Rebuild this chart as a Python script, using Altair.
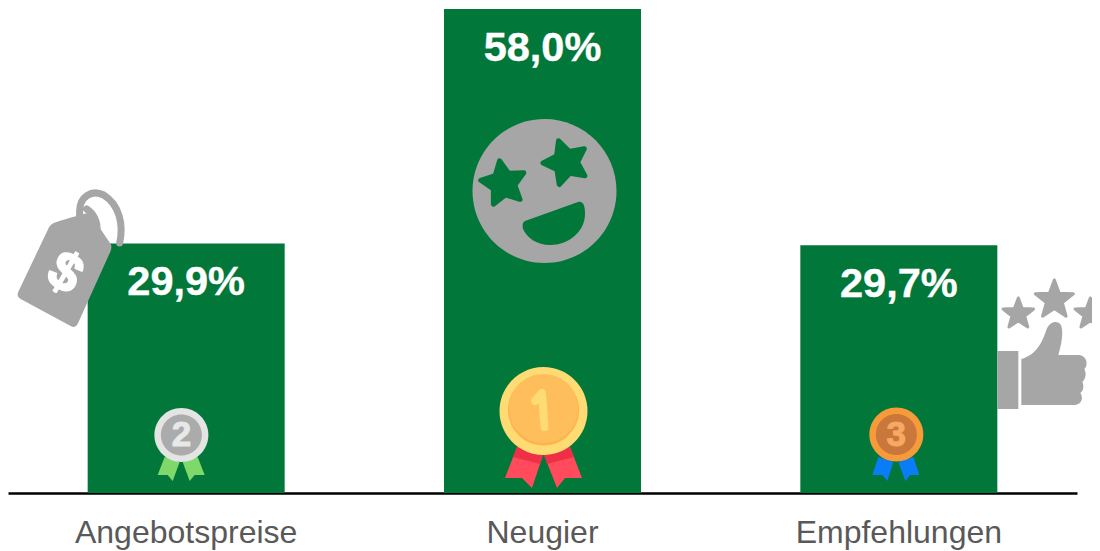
import math
import re
import altair as alt
import pandas as pd

categories = ["Angebotspreise", "Neugier", "Empfehlungen"]
values = [29.9, 58.0, 29.7]
value_labels = ["29,9%", "58,0%", "29,7%"]

GREEN = "#02773A"
GREY = "#A6A6A6"
FONT = "Liberation Sans"
BAR_CENTRE = {"Angebotspreise": 186.5, "Neugier": 542.5, "Empfehlungen": 898.5}
BASE_Y = 493.0

df = pd.DataFrame({"cat": categories, "val": values, "lab": value_labels})

xs = alt.Scale(domain=categories, range=[0, 1069], paddingInner=0.447, paddingOuter=0.2235)
ys = alt.Scale(domain=[0, 58], nice=False)
X = alt.X("cat:N", scale=xs, sort=categories,
          axis=alt.Axis(title=None, ticks=False, labelAngle=0, labelFontSize=32, labelColor="#595959", labelLimit=400,
                        labelFont=FONT, labelPadding=24, domainColor="#000000", domainWidth=2.6, grid=False))
Y = alt.Y("val:Q", scale=ys, axis=None)

bars = alt.Chart(df).mark_bar(color=GREEN, size=197).encode(x=X, y=Y)
labels = alt.Chart(df).mark_text(color="white", font=FONT, fontWeight="bold", fontSize=41.5, baseline="middle", dy=40,
                                 stroke="white", strokeWidth=0.4).encode(x=X, y=Y, text="lab:N")


def norm(path, cx, cy, half):
    state = {"i": 0}
    def rep(m):
        v = float(m.group(0))
        c, state["i"] = (cx if state["i"] % 2 == 0 else cy), state["i"] + 1
        return f"{(v - c) / half:.4f}"
    return re.sub(r"-?\d+(?:\.\d+)?", rep, path)


CIRCLE = "M-1,0A1,1 0 1,0 1,0A1,1 0 1,0 -1,0Z"


def star_path(inner=0.42):
    pts = []
    for i in range(10):
        r = 1.0 if i % 2 == 0 else inner
        a = -math.pi / 2 + i * math.pi / 5
        pts.append(f"{r * math.cos(a):.4f},{r * math.sin(a):.4f}")
    return "M" + "L".join(pts) + "Z"


STAR = star_path()
FAT_STAR = star_path(0.5)


def anchor(cat):
    return pd.DataFrame({"cat": [cat], "val": [0.0]})


def glyph(cat, cx, cy, half, shape, fill, stroke=None, sw=0, angle=None, filled=True):
    kw = dict(shape=shape, size=(2 * half) ** 2, opacity=1,
              xOffset=cx - BAR_CENTRE[cat], yOffset=cy - BASE_Y, filled=filled, clip=False)
    if filled:
        kw["fill"] = fill
    if stroke:
        kw.update(stroke=stroke, strokeWidth=sw, strokeJoin="round", strokeCap="round")
    else:
        kw["strokeWidth"] = 0
    if angle is not None:
        kw["angle"] = angle
    return alt.Chart(anchor(cat)).mark_point(**kw).encode(x=X, y=Y)


def poly(cat, path, cx, cy, half, fill, **k):
    return glyph(cat, cx, cy, half, norm(path, cx, cy, half), fill, **k)


def circle(cat, cx, cy, d, fill):
    return glyph(cat, cx, cy, d / 2, CIRCLE, fill)


def star(cat, cx, cy, r, fill, angle=None):
    return glyph(cat, cx, cy, r - 2, STAR, fill, stroke=fill, sw=3, angle=angle)


def fat_star(cat, cx, cy, r, fill, angle=None):
    return glyph(cat, cx, cy, r - 3, FAT_STAR, fill, stroke=fill, sw=5, angle=angle)


def char(cat, cx, cy, text, size, color, angle=None, weight="bold", outline=0):
    kw = dict(text=text, fontSize=size, color=color, font=FONT, fontWeight=weight, baseline="middle", align="center",
              xOffset=cx - BAR_CENTRE[cat], yOffset=cy - BASE_Y)
    if angle is not None:
        kw["angle"] = angle
    if outline:
        kw.update(stroke=color, strokeWidth=outline, strokeJoin="round")
    return alt.Chart(anchor(cat)).mark_text(**kw).encode(x=X, y=Y)


A, N, E = categories
icons = [
    # price tag
    poly(A, "M120,243 C124,225 120,205 104,195 C92,189 80,197 80,211 C79,224 85,235 91,238 "
            "C98,238 99,226 95,218 C93,214 90,211 87,209",
         100, 220, 40, GREY, stroke=GREY, sw=7, filled=False),
    poly(A, "M90,213 C85,213 60,221 54,223 C52,224 50,226 49,228 L19,291 C17,295 18,297 21,299 "
            "L71,326 C74,328 76,327 78,324 L111,251 C112,248 112,246 111,244 Z", 65, 270, 70, GREY),
    char(A, 65, 274, "$", 54, "white", angle=30, outline=2),
    # star-eyes face
    circle(N, 544.5, 191, 144, GREY),
    fat_star(N, 503.5, 183.5, 26, GREEN, angle=350),
    fat_star(N, 566, 162.5, 26, GREEN, angle=341),
    poly(N, "M525,221 L578,202 C583,201 585,205 585,214 C585,232 568,245 550,245 C537,245 527,238 523,229 "
            "C522,225 523,222 525,221 Z", 554, 223, 35, GREEN),
    # thumbs-up with stars
    poly(E, "M997,351 L1018,351 L1018,409 L997,409 Z", 1007, 380, 32, GREY),
    poly(E, "M1021,359 C1036,355 1042,342 1046,330 C1049,322 1056,320 1060,324 C1064,330 1061,345 1058,355 "
            "L1079,355 C1087,356 1088,366 1084,369 C1086,373 1086,378 1082,382 C1084,386 1083,391 1080,393 "
            "C1083,397 1082,404 1075,405 L1021,405 Z", 1053, 362, 44, GREY),
    star(E, 1018, 314, 18, GREY),
    star(E, 1054, 300, 22, GREY),
    star(E, 1090, 314, 18, GREY),
    # medal 1
    poly(N, "M517,447 L543,455 L532,488 L522,478 L505,478 Z", 543, 467, 40, "#FF4B5C"),
    poly(N, "M570,447 L544,455 L557,488 L565,478 L582,478 Z", 543, 467, 40, "#FF4B5C"),
    poly(N, "M517,447 L543,455 L540,464 L513,457 Z", 543, 467, 40, "#EE2F45"),
    poly(N, "M570,447 L544,455 L547,464 L574,457 Z", 543, 467, 40, "#EE2F45"),
    circle(N, 543.5, 411, 88, "#FFDB74"),
    circle(N, 543.5, 410, 71, "#FFB24E"),
    circle(N, 543.5, 408.5, 69, "#FFBE5C"),
    poly(N, "M535,401 L542,393 L544.5,427", 540, 410, 24, "#FFDB74", stroke="#FFDB74", sw=8, filled=False),
    # medal 2
    poly(A, "M165,457 L180,462 L173,481 L168,475 L158,475 Z", 182, 468, 28, "#7FD96A"),
    poly(A, "M198,457 L183,462 L190,481 L195,475 L205,475 Z", 182, 468, 28, "#7FD96A"),
    circle(A, 181.7, 435, 54, "#E4E4E4"),
    circle(A, 181.7, 435, 41, "#ABABAB"),
    char(A, 181.7, 435, "2", 35, "#E8E8E8", outline=1),
    # medal 3
    poly(E, "M878,457 L893,462 L887,481 L882,475 L872,475 Z", 896, 468, 28, "#0A7CF5"),
    poly(E, "M913,457 L898,462 L905,481 L910,475 L919,475 Z", 896, 468, 28, "#0A7CF5"),
    circle(E, 896, 434.5, 54, "#F79A3A"),
    circle(E, 896, 434.5, 41, "#C9773A"),
    char(E, 896, 434.5, "3", 35, "#F7A862", outline=1),
]

chart = alt.layer(bars, labels, *icons).properties(
    width=1084, height=484,
    autosize=alt.AutoSizeParams(type="none"),
    padding={"left": 0, "top": 1, "right": 0, "bottom": 58},
    background="white",
).configure_view(stroke=None)

chart.save("out.html", embed_options={"renderer": "svg", "actions": False})
